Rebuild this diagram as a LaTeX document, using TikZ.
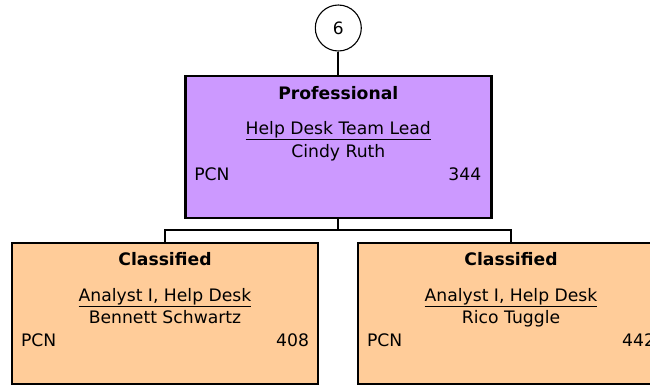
\documentclass[tikz,border=0pt]{standalone}
\usepackage{fontspec}
\setmainfont{DejaVu Sans}
\usetikzlibrary{calc}
\definecolor{prof}{HTML}{CC99FF}
\definecolor{clas}{HTML}{FFCC99}
\newcommand{\fs}{\fontsize{17.2}{20}\selectfont}
\begin{document}
\begin{tikzpicture}[x=1pt,y=-1pt,
  box/.style={draw=black,line width=2.4pt,minimum width=306pt,minimum height=141pt,inner sep=0pt},
  conn/.style={draw=black,line width=2.2pt},
  txt/.style={inner sep=0pt,anchor=base,font=\fs},
  hd/.style={txt,font=\fs\bfseries},
  lt/.style={inner sep=0pt,anchor=base west,font=\fs},
  rt/.style={inner sep=0pt,anchor=base east,font=\fs}]
\useasboundingbox (0,0) rectangle (650,386);
% circle
\node[draw=black,line width=1.1pt,circle,minimum size=46pt,inner sep=0pt,font=\fontsize{17}{20}\selectfont] (num) at (338.3,28) {6};
% parent
\node[box,fill=prof,minimum height=142pt] (p) at (338.3,147) {};
\node[hd] (ph) at ($(p.north)+(0,24.5)$) {Professional};
\node[txt] (pt) at ($(p.north)+(0,59.5)$) {\underline{Help Desk Team Lead}};
\node[txt] (pn) at ($(p.north)+(0,83)$) {Cindy Ruth};
\node[lt] (pl) at ($(p.north west)+(10,106)$) {PCN};
\node[rt] (pr) at ($(p.north east)+(-11,106)$) {344};
% children
\node[box,fill=clas] (c1) at (165,313.5) {};
\node[hd] (c1h) at ($(c1.north)+(0,24)$) {Classified};
\node[txt] (c1t) at ($(c1.north)+(0,59.5)$) {\underline{Analyst I, Help Desk}};
\node[txt] (c1n) at ($(c1.north)+(0,82)$) {Bennett Schwartz};
\node[lt] (c1l) at ($(c1.north west)+(10,105)$) {PCN};
\node[rt] (c1r) at ($(c1.north east)+(-10,105)$) {408};
\node[box,fill=clas] (c2) at (511,313.5) {};
\node[hd] (c2h) at ($(c2.north)+(0,24)$) {Classified};
\node[txt] (c2t) at ($(c2.north)+(0,59.5)$) {\underline{Analyst I, Help Desk}};
\node[txt] (c2n) at ($(c2.north)+(0,82)$) {Rico Tuggle};
\node[lt] (c2l) at ($(c2.north west)+(10,105)$) {PCN};
\node[rt] (c2r) at ($(c2.north east)+(-10,105)$) {442};
% connectors
\coordinate (bus) at (338.3,230);
\draw[conn] (num.south) -- (p.north);
\draw[conn] (p.south) -- (bus);
\draw[conn,line width=1.8pt] (c1.north) |- (bus) -| (c2.north);
\end{tikzpicture}
\end{document}
